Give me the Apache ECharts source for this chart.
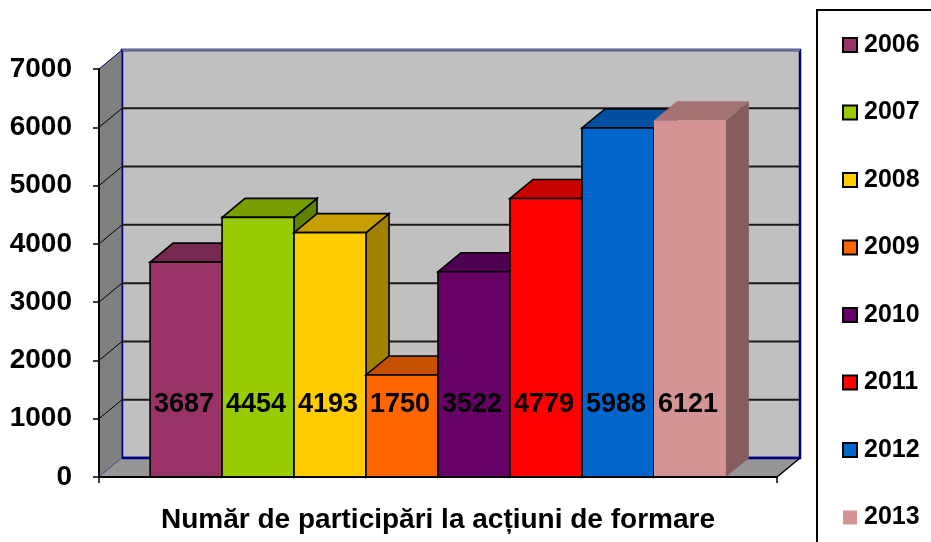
<!DOCTYPE html>
<html>
<head>
<meta charset="utf-8">
<title>Participări la acțiuni de formare</title>
<script src="https://cdn.jsdelivr.net/npm/echarts@6/dist/echarts.min.js"></script>
<style>
  html, body { margin: 0; padding: 0; background: #fff; }
  #chart { width: 931px; height: 542px; }
</style>
</head>
<body>
<div id="chart"></div>
<script>
// Number of participations per year
const years = ['2006', '2007', '2008', '2009', '2010', '2011', '2012', '2013'];
const participants = [3687, 4454, 4193, 1750, 3522, 4779, 5988, 6121];
const barColors = ['#993366', '#99CC00', '#FFCC00', '#FF6600', '#660066', '#FF0000', '#0066CC', '#D49494'];
const yTicks = [0, 1000, 2000, 3000, 4000, 5000, 6000, 7000];
const axisTitle = 'Număr de participări la acțiuni de formare';

// Layout of the pseudo-3D box
const FONT = '"Liberation Sans", Arial, sans-serif';
const GAP = 0.71;                 // empty floor before the first / after the last column, in column widths
const XMAX = years.length + 2 * GAP;
const YMAX = yTicks[yTicks.length - 1];
const DX = 23, DY = -19;          // depth offset of the box
const LABEL_AT = 1250;            // height at which value labels sit

function shade(hex, f) {
  const n = parseInt(hex.slice(1), 16);
  const r = Math.round(((n >> 16) & 255) * f);
  const g = Math.round(((n >> 8) & 255) * f);
  const b = Math.round((n & 255) * f);
  return 'rgb(' + r + ',' + g + ',' + b + ')';
}

// Back wall, side wall, floor and gridlines
function renderBox(params, api) {
  const o = api.coord([0, 0]);
  const t = api.coord([0, YMAX]);
  const r = api.coord([XMAX, 0]);
  const children = [];
  children.push({
    type: 'polygon',
    shape: { points: [[o[0] + DX, t[1] + DY], [r[0] + DX, t[1] + DY], [r[0] + DX, o[1] + DY], [o[0] + DX, o[1] + DY]] },
    style: { fill: '#c0c0c0', stroke: '#000080', lineWidth: 2.5 }
  });
  children.push({
    type: 'line',
    shape: { x1: o[0] + DX, y1: t[1] + DY, x2: r[0] + DX, y2: t[1] + DY },
    style: { stroke: '#6a6a8e', lineWidth: 2.5 }
  });
  children.push({
    type: 'polygon',
    shape: { points: [[o[0], t[1]], [o[0] + DX, t[1] + DY], [o[0] + DX, o[1] + DY], [o[0], o[1]]] },
    style: { fill: '#808080', stroke: '#000080', lineWidth: 1 }
  });
  children.push({
    type: 'polygon',
    shape: { points: [[o[0], o[1]], [o[0] + DX, o[1] + DY], [r[0] + DX, o[1] + DY], [r[0], r[1]]] },
    style: { fill: '#969696', stroke: null }
  });
  children.push({
    type: 'line',
    shape: { x1: o[0] + DX, y1: o[1] + DY, x2: r[0] + DX, y2: o[1] + DY },
    style: { stroke: '#000080', lineWidth: 2.5 }
  });
  children.push({
    type: 'line',
    shape: { x1: r[0], y1: r[1], x2: r[0] + DX, y2: r[1] + DY },
    style: { stroke: '#000', lineWidth: 1.5 }
  });
  yTicks.forEach(function (v) {
    if (v === 0 || v === YMAX) return;
    const p = api.coord([0, v]);
    children.push({
      type: 'line',
      shape: { x1: p[0] + DX, y1: p[1] + DY, x2: r[0] + DX, y2: p[1] + DY },
      style: { stroke: '#1a1a1a', lineWidth: 2 }
    });
    children.push({
      type: 'line',
      shape: { x1: p[0], y1: p[1], x2: p[0] + DX, y2: p[1] + DY },
      style: { stroke: '#000', lineWidth: 1 }
    });
  });
  return { type: 'group', children: children };
}

// One column: front face, top face, right side face, value label
function makeBarRenderer(color, outlined) {
  return function (params, api) {
    const i = api.value(0);
    const v = api.value(1);
    const base = api.coord([GAP + i, 0]);
    const top = api.coord([GAP + i + 1, v]);
    const xl = base[0], xr = top[0], yb = base[1], yt = top[1];
    const stroke = outlined ? '#000' : null;
    const lw = outlined ? 1.6 : 0;
    const ly = api.coord([0, LABEL_AT])[1];
    return {
      type: 'group',
      children: [
        {
          type: 'polygon',
          shape: { points: [[xr, yt], [xr + DX, yt + DY], [xr + DX, yb + DY], [xr, yb]] },
          style: { fill: shade(color, 0.63), stroke: stroke, lineWidth: lw }
        },
        {
          type: 'polygon',
          shape: { points: [[xl, yt], [xr, yt], [xr + DX, yt + DY], [xl + DX, yt + DY]] },
          style: { fill: shade(color, 0.78), stroke: stroke, lineWidth: lw }
        },
        {
          type: 'rect',
          shape: { x: xl, y: yt, width: xr - xl, height: yb - yt },
          style: { fill: color, stroke: stroke, lineWidth: lw }
        },
        {
          type: 'text',
          x: (xl + xr) / 2 - 2,
          y: ly,
          style: {
            text: String(v),
            fill: '#000',
            font: 'bold 27px ' + FONT,
            align: 'center',
            verticalAlign: 'middle'
          }
        }
      ]
    };
  };
}

const series = [{
  type: 'custom',
  name: 'box',
  silent: true,
  z: 1,
  clip: false,
  renderItem: renderBox,
  data: [[0, 0]]
}];

years.forEach(function (y, i) {
  const outlined = i < years.length - 1;
  series.push({
    type: 'custom',
    name: y,
    z: 3,
    clip: false,
    renderItem: makeBarRenderer(barColors[i], outlined),
    itemStyle: {
      color: barColors[i],
      borderColor: outlined ? '#000' : barColors[i],
      borderWidth: outlined ? 1.5 : 0
    },
    data: [[i, participants[i]]]
  });
});

const chart = echarts.init(document.getElementById('chart'), null, { renderer: 'canvas' });
chart.setOption({
  animation: false,
  backgroundColor: '#fff',
  grid: { left: 99, right: 154, top: 69, bottom: 65 },
  xAxis: {
    type: 'value',
    min: 0,
    max: XMAX,
    interval: XMAX,
    z: 20,
    axisLine: { show: true, lineStyle: { color: '#000', width: 2 } },
    axisTick: { show: true, length: 6, lineStyle: { color: '#000', width: 1.5 } },
    axisLabel: { show: false },
    splitLine: { show: false },
    name: axisTitle,
    nameLocation: 'middle',
    nameGap: 29,
    nameTextStyle: { fontFamily: FONT, fontWeight: 'bold', fontSize: 28, color: '#000' }
  },
  yAxis: {
    type: 'value',
    min: 0,
    max: YMAX,
    interval: 1000,
    z: 20,
    axisLine: { show: true, lineStyle: { color: '#000', width: 2 } },
    axisTick: { show: true, length: 6, lineStyle: { color: '#000', width: 1.5 } },
    axisLabel: {
      fontFamily: FONT, fontWeight: 'bold', fontSize: 28, color: '#000', margin: 27,
      formatter: function (v) { return String(v); }
    },
    splitLine: { show: false }
  },
  legend: {
    data: years,
    orient: 'vertical',
    left: 842,
    top: 30,
    padding: 0,
    icon: 'rect',
    itemWidth: 14,
    itemHeight: 14,
    itemGap: 37.5,
    textStyle: { fontFamily: FONT, fontWeight: 'bold', fontSize: 25, color: '#000', lineHeight: 30, padding: [0, 0, 0, 2] }
  },
  graphic: [{
    type: 'rect',
    shape: { x: 817, y: 10, width: 200, height: 600 },
    style: { fill: 'none', stroke: '#000', lineWidth: 2 },
    silent: true
  }],
  series: series
});
</script>
</body>
</html>
